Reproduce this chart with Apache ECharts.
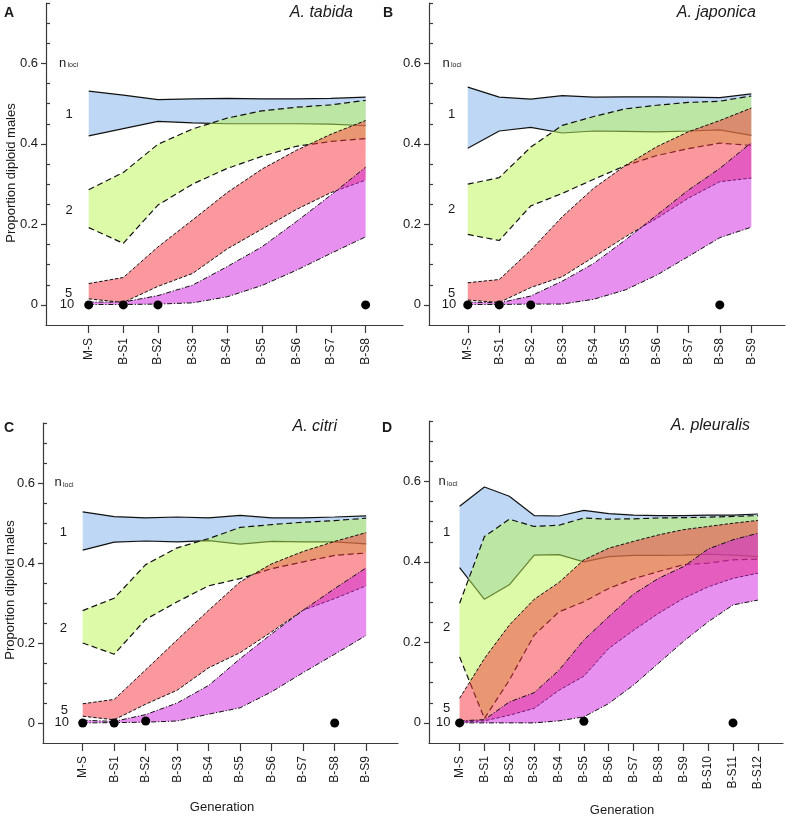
<!DOCTYPE html>
<html><head><meta charset="utf-8">
<script src="https://cdn.jsdelivr.net/npm/echarts@6/dist/echarts.min.js"></script>
<style>html,body{margin:0;padding:0;background:#fff}#c{width:787px;height:819px}</style>
</head><body><div id="c"></div>
<script>
// ---- categories ----
const catsA = ['M-S','B-S1','B-S2','B-S3','B-S4','B-S5','B-S6','B-S7','B-S8'];
const catsB = ['M-S','B-S1','B-S2','B-S3','B-S4','B-S5','B-S6','B-S7','B-S8','B-S9'];
const catsC = ['M-S','B-S1','B-S2','B-S3','B-S4','B-S5','B-S6','B-S7','B-S8','B-S9'];
const catsD = ['M-S','B-S1','B-S2','B-S3','B-S4','B-S5','B-S6','B-S7','B-S8','B-S9','B-S10','B-S11','B-S12'];

// ---- y ticks ----
const yTickVals = [0, 0.2, 0.4, 0.6];
const yTickLabels = ['0', '0.2', '0.4', '0.6'];
const yMinorVals = [0.05,0.1,0.15,0.25,0.3,0.35,0.45,0.5,0.55,0.65,0.7,0.75];

// ---- Panel A: A. tabida ----
const A_n1_hi  = [0.531,0.521,0.510,0.512,0.513,0.512,0.512,0.513,0.516];
const A_n1_lo  = [0.420,0.438,0.456,0.452,0.450,0.450,0.450,0.449,0.445];
const A_n2_hi  = [0.286,0.329,0.399,0.437,0.464,0.482,0.491,0.497,0.508];
const A_n2_lo  = [0.192,0.153,0.248,0.300,0.339,0.369,0.394,0.406,0.413];
const A_n5_hi  = [0.053,0.068,0.144,0.211,0.279,0.337,0.384,0.424,0.458];
const A_n5_lo  = [0.015,0.006,0.046,0.078,0.139,0.188,0.237,0.279,0.310];
const A_n10_hi = [0.007,0.007,0.023,0.049,0.095,0.144,0.207,0.273,0.342];
const A_n10_lo = [0.001,0.001,0.002,0.005,0.020,0.048,0.086,0.128,0.169];
const A_dotGen = [0,1,2,8];
const A_dotVal = [0,0,0,0];

// ---- Panel B: A. japonica ----
const B_n1_hi  = [0.541,0.516,0.511,0.520,0.516,0.517,0.517,0.516,0.515,0.524];
const B_n1_lo  = [0.389,0.432,0.441,0.427,0.432,0.431,0.430,0.432,0.435,0.421];
const B_n2_hi  = [0.300,0.316,0.392,0.446,0.468,0.487,0.496,0.503,0.506,0.519];
const B_n2_lo  = [0.175,0.160,0.246,0.277,0.312,0.346,0.371,0.388,0.402,0.396];
const B_n5_hi  = [0.055,0.063,0.136,0.219,0.290,0.346,0.393,0.430,0.458,0.489];
const B_n5_lo  = [0.012,0.006,0.043,0.070,0.119,0.169,0.215,0.265,0.306,0.315];
const B_n10_hi = [0.007,0.005,0.022,0.059,0.103,0.161,0.223,0.285,0.339,0.403];
const B_n10_lo = [0.001,0.001,0.002,0.002,0.014,0.037,0.074,0.120,0.167,0.193];
const B_dotGen = [0,1,2,8];
const B_dotVal = [0,0,0,0];

// ---- Panel C: A. citri ----
const C_n1_hi  = [0.528,0.516,0.513,0.515,0.513,0.519,0.513,0.513,0.515,0.518];
const C_n1_lo  = [0.432,0.452,0.455,0.453,0.456,0.447,0.454,0.453,0.453,0.448];
const C_n2_hi  = [0.281,0.312,0.396,0.438,0.461,0.489,0.496,0.502,0.506,0.512];
const C_n2_lo  = [0.200,0.172,0.259,0.303,0.343,0.361,0.386,0.403,0.419,0.425];
const C_n5_hi  = [0.048,0.059,0.133,0.208,0.282,0.353,0.398,0.429,0.454,0.476];
const C_n5_lo  = [0.017,0.008,0.047,0.082,0.138,0.176,0.228,0.282,0.311,0.343];
const C_n10_hi = [0.007,0.004,0.021,0.050,0.094,0.161,0.223,0.282,0.336,0.388];
const C_n10_lo = [0.000,0.001,0.002,0.005,0.022,0.038,0.078,0.126,0.172,0.219];
const C_dotGen = [0,1,2,8];
const C_dotVal = [0,0,0.005,0];

// ---- Panel D: A. pleuralis ----
const D_n1_hi  = [0.538,0.586,0.563,0.515,0.514,0.528,0.520,0.516,0.515,0.515,0.516,0.516,0.519];
const D_n1_lo  = [0.386,0.307,0.343,0.417,0.418,0.400,0.413,0.416,0.416,0.417,0.419,0.417,0.413];
const D_n2_hi  = [0.297,0.463,0.506,0.488,0.491,0.509,0.506,0.507,0.509,0.510,0.511,0.513,0.515];
const D_n2_lo  = [0.164,0.011,0.106,0.218,0.276,0.301,0.334,0.358,0.376,0.393,0.397,0.405,0.407];
const D_n5_hi  = [0.061,0.160,0.243,0.307,0.349,0.405,0.434,0.451,0.467,0.480,0.488,0.496,0.503];
const D_n5_lo  = [0.002,0.005,0.019,0.036,0.081,0.116,0.185,0.230,0.272,0.309,0.338,0.359,0.372];
const D_n10_hi = [0.005,0.008,0.052,0.075,0.131,0.206,0.264,0.320,0.359,0.388,0.432,0.455,0.471];
const D_n10_lo = [0.000,0.000,0.000,0.000,0.005,0.015,0.048,0.094,0.148,0.202,0.251,0.293,0.305];
const D_dotGen = [0,5,11];
const D_dotVal = [0,0.004,0];

// ---- styling ----
const FONT = '"Liberation Sans", Arial, Helvetica, sans-serif';
const AXIS_COLOR = '#3a3a3a';
const TEXT_COLOR = '#1a1a1a';
const fills  = ['rgba(125,175,235,0.5)','rgba(185,245,81,0.5)','rgba(245,49,61,0.5)','rgba(209,33,225,0.5)'];
const dashes = ['solid',[6,3.5],[3.5,1.8],[5,1.8,1.2,1.8]];
const widths = [1.2,1.2,1,1];

const panels = [
  {cats: catsA, bands: [[A_n1_hi,A_n1_lo],[A_n2_hi,A_n2_lo],[A_n5_hi,A_n5_lo],[A_n10_hi,A_n10_lo]],
   dg: A_dotGen, dv: A_dotVal, grid: {left:46, top:3, width:357, height:322}, xmin:-1.234, xmax:9.08},
  {cats: catsB, bands: [[B_n1_hi,B_n1_lo],[B_n2_hi,B_n2_lo],[B_n5_hi,B_n5_lo],[B_n10_hi,B_n10_lo]],
   dg: B_dotGen, dv: B_dotVal, grid: {left:429, top:3, width:356, height:322}, xmin:-1.23, xmax:10.07},
  {cats: catsC, bands: [[C_n1_hi,C_n1_lo],[C_n2_hi,C_n2_lo],[C_n5_hi,C_n5_lo],[C_n10_hi,C_n10_lo]],
   dg: C_dotGen, dv: C_dotVal, grid: {left:43, top:423, width:355, height:320}, xmin:-1.26, xmax:10.01},
  {cats: catsD, bands: [[D_n1_hi,D_n1_lo],[D_n2_hi,D_n2_lo],[D_n5_hi,D_n5_lo],[D_n10_hi,D_n10_lo]],
   dg: D_dotGen, dv: D_dotVal, grid: {left:429, top:421, width:354, height:322}, xmin:-1.23, xmax:13.01}
];

const grids = [], xAxes = [], yAxes = [], series = [];
panels.forEach((p, g) => {
  grids.push(Object.assign({containLabel:false, outerBoundsMode:'none'}, p.grid));
  const idx = p.cats.map((_, i) => i);
  xAxes.push({
    gridIndex: g, type: 'value', min: p.xmin, max: p.xmax,
    axisLine: {onZero: false, lineStyle: {color: AXIS_COLOR, width: 1.2}},
    axisTick: {customValues: idx, length: 8, lineStyle: {color: AXIS_COLOR, width: 1.2}},
    axisLabel: {customValues: idx, rotate: 90, margin: 13, fontSize: 12, fontFamily: FONT, color: TEXT_COLOR,
      formatter: v => p.cats[Math.round(v)] || ''},
    splitLine: {show: false}
  });
  yAxes.push({
    gridIndex: g, type: 'value', position: 'left', min: -0.05, max: 0.75,
    axisLine: {show: true, onZero: false, lineStyle: {color: AXIS_COLOR, width: 1.2}},
    axisTick: {show: true, customValues: yTickVals, length: 5, inside: false, lineStyle: {color: AXIS_COLOR, width: 1.2}},
    axisLabel: {customValues: yTickVals, margin: 8, fontSize: 13, fontFamily: FONT, color: TEXT_COLOR,
      formatter: v => { const k = yTickVals.findIndex(t => Math.abs(t - v) < 1e-6); return k >= 0 ? yTickLabels[k] : ''; }},
    splitLine: {show: false}
  });
  yAxes.push({
    gridIndex: g, type: 'value', position: 'left', min: -0.05, max: 0.75,
    axisLine: {show: false, onZero: false},
    axisTick: {show: true, customValues: yMinorVals, length: 4, inside: true, lineStyle: {color: AXIS_COLOR, width: 1.2}},
    axisLabel: {show: false}, splitLine: {show: false}
  });
  p.bands.forEach((b, k) => {
    const hi = b[0], lo = b[1];
    series.push({
      type: 'custom', xAxisIndex: g, yAxisIndex: 2*g, z: 1 + 2*k, silent: true, clip: false,
      data: [[0, 0]],
      renderItem: (params, api) => {
        const pts = [];
        for (let i = 0; i < hi.length; i++) pts.push(api.coord([i, hi[i]]));
        for (let i = lo.length - 1; i >= 0; i--) pts.push(api.coord([i, lo[i]]));
        return {type: 'polygon', shape: {points: pts}, style: {fill: fills[k], stroke: null}};
      }
    });
    [hi, lo].forEach(arr => {
      series.push({
        type: 'line', xAxisIndex: g, yAxisIndex: 2*g, z: 2 + 2*k, silent: true,
        symbol: 'none', showSymbol: false,
        lineStyle: {color: '#111', width: widths[k], type: dashes[k]},
        data: arr.map((v, i) => [i, v])
      });
    });
  });
  series.push({
    type: 'scatter', xAxisIndex: g, yAxisIndex: 2*g, z: 20, silent: true,
    symbol: 'circle', symbolSize: 9, itemStyle: {color: '#000', opacity: 1},
    data: p.dg.map((x, i) => [x, p.dv[i]])
  });
});

// ---- annotation texts ----
function txt(text, x, y, font, align, vAlign, extra) {
  return Object.assign({type: 'text', x: x, y: y, silent: true, z: 50,
    style: {text: text, font: font, fill: TEXT_COLOR, textAlign: align, textVerticalAlign: vAlign, align: align, verticalAlign: vAlign}}, extra || {});
}
const F13 = '13px ' + FONT, F7 = '7px ' + FONT, FB = 'bold 14px ' + FONT, FI = 'italic 16px ' + FONT;
const graphic = [];
const letters = [['A',4,13],['B',383,13],['C',4,428],['D',382,428]];
letters.forEach(l => graphic.push(txt(l[0], l[1], l[2], FB, 'left', 'middle')));
const species = [['A. tabida',353,13],['A. japonica',756,13],['A. citri',337,427],['A. pleuralis',750,426]];
species.forEach(s => graphic.push(txt(s[0], s[1], s[2], FI, 'right', 'middle')));
const nloci = [[59,63],[442.5,63],[54.5,482.7],[438.5,481.7]];
nloci.forEach(n => {
  graphic.push(txt('n', n[0], n[1], F13, 'left', 'middle'));
  graphic.push(txt('loci', n[0] + 8.5, n[1] + 2.5, F7, 'left', 'middle'));
});
const bandLabels = ['1','2','5','10'];
const bandLabelPos = [
  [[69,114.5],[69,210],[68.5,293],[67,304.5]],
  [[451.7,114],[451.7,209],[451.7,293],[449,304.5]],
  [[63.3,532.7],[63.3,628.3],[64.3,710.7],[61.7,722]],
  [[446.7,532.3],[446.7,627.3],[446.7,708.3],[443.3,722]]
];
bandLabelPos.forEach(ps => ps.forEach((pos, k) => graphic.push(txt(bandLabels[k], pos[0], pos[1], F13, 'center', 'middle'))));
graphic.push(txt('Proportion diploid males', 11, 173, F13, 'center', 'middle', {rotation: Math.PI / 2}));
graphic.push(txt('Proportion diploid males', 10.5, 590, F13, 'center', 'middle', {rotation: Math.PI / 2}));
graphic.push(txt('Generation', 222, 807, F13, 'center', 'middle'));
graphic.push(txt('Generation', 622, 810, F13, 'center', 'middle'));

const chart = echarts.init(document.getElementById('c'), null, {renderer: 'canvas'});
chart.setOption({
  animation: false,
  backgroundColor: '#fff',
  textStyle: {fontFamily: FONT},
  grid: grids, xAxis: xAxes, yAxis: yAxes, series: series, graphic: graphic
});
</script>
</body></html>
